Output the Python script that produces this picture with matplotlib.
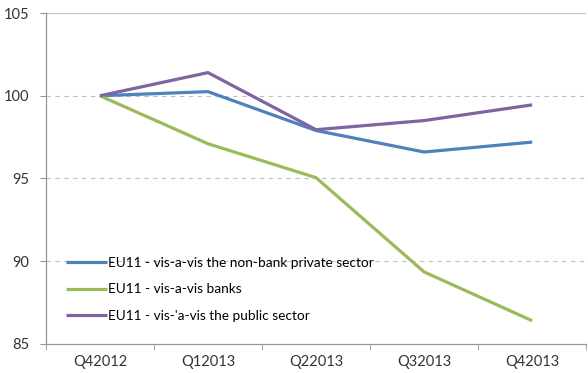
import matplotlib.pyplot as plt
import numpy as np

# Quarterly index values (Q42012 = 100)
quarters = ['Q42012', 'Q12013', 'Q22013', 'Q32013', 'Q42013']
non_bank_private = [100, 100.25, 97.9, 96.6, 97.2]
banks = [100, 97.1, 95.05, 89.35, 86.4]
public_sector = [100, 101.4, 97.95, 98.5, 99.45]

labels = ['EU11 - vis-a-vis the non-bank private sector',
          'EU11 - vis-a-vis banks',
          "EU11 - vis-'a-vis the public sector"]
colors = ['#4F81BD', '#9BBB59', '#8064A2']

plt.rcParams['font.family'] = ['Lato', 'DejaVu Sans']

fig = plt.figure(figsize=(5.88, 3.73), dpi=100)
ax = fig.add_axes([0.078, 0.078, 0.919, 0.887])

x = np.arange(len(quarters))
for vals, lab, col in zip([non_bank_private, banks, public_sector], labels, colors):
    ax.plot(x, vals, color=col, linewidth=2.3, label=lab, solid_capstyle='butt')

ax.set_xlim(-0.5, len(quarters) - 0.5)
ax.set_ylim(85, 105)
ax.set_yticks([85, 90, 95, 100, 105])
ax.set_xticks(x)
ax.set_xticklabels(quarters)
ax.set_xticks(np.arange(-0.5, len(quarters)), minor=True)

# gridlines: dashed inside, solid at top
for yv in [90, 95, 100]:
    ax.axhline(yv, color='#BFBFBF', linestyle=(0, (4, 4)), linewidth=0.8, zorder=0)
ax.axhline(105, color='#BFBFBF', linewidth=0.8, zorder=0)

for side in ['top', 'right']:
    ax.spines[side].set_visible(False)
for side in ['left', 'bottom']:
    ax.spines[side].set_color('#969696')
    ax.spines[side].set_linewidth(0.9)

ax.tick_params(axis='y', length=4, color='#969696', labelsize=10.5, labelcolor='#333333', pad=8)
ax.tick_params(axis='x', which='major', length=0, labelsize=10.5, labelcolor='#333333', pad=8)
ax.tick_params(axis='x', which='minor', length=4, color='#969696', direction='out')

ax.legend(loc='lower left', bbox_to_anchor=(0.015, 0.03), frameon=False,
          fontsize=9.8, handlelength=3.0, handletextpad=0.1, labelspacing=1.05)

fig.savefig('out.png', dpi=100)
